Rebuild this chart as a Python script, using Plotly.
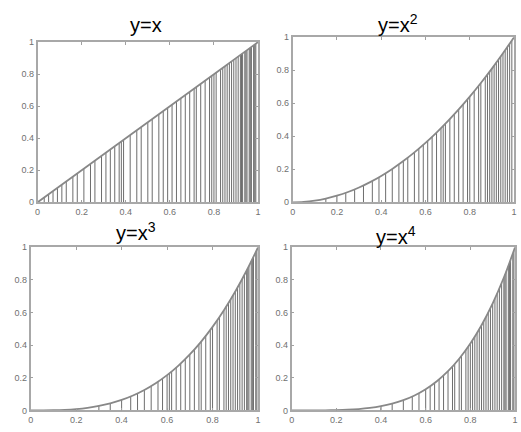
import plotly.graph_objects as go

# ---- data ----
titles = ["y=x", "y=x<sup>2</sup>", "y=x<sup>3</sup>", "y=x<sup>4</sup>"]
powers = [1, 2, 3, 4]
curve_x = [0, 0.05, 0.1, 0.15, 0.2, 0.25, 0.3, 0.35, 0.4, 0.45, 0.5, 0.55,
           0.6, 0.65, 0.7, 0.75, 0.8, 0.85, 0.9, 0.95, 1.0]
stems1 = [0.03, 0.05, 0.07, 0.09, 0.11, 0.13, 0.16, 0.18, 0.21, 0.24, 0.26, 0.29,
          0.31, 0.33, 0.35, 0.37, 0.38, 0.39, 0.42, 0.45, 0.47, 0.50, 0.52, 0.55, 0.57,
          0.59, 0.61, 0.63, 0.65, 0.67, 0.69, 0.71, 0.72, 0.74, 0.76, 0.78, 0.79,
          0.80, 0.81, 0.83, 0.84, 0.85, 0.86, 0.87, 0.88, 0.89, 0.90, 0.91, 0.92,
          0.925, 0.93, 0.94, 0.945, 0.95, 0.96, 0.965, 0.97, 0.98, 0.985, 0.99]
stems2 = [0.15, 0.20, 0.24, 0.28, 0.32, 0.36, 0.39, 0.42, 0.45, 0.48, 0.50, 0.52,
          0.55, 0.57, 0.59, 0.61, 0.63, 0.65, 0.67, 0.68, 0.69, 0.71, 0.73, 0.75, 0.77,
          0.79, 0.80, 0.82, 0.84, 0.85, 0.87, 0.88, 0.89, 0.90, 0.91, 0.92, 0.93,
          0.94, 0.95, 0.96, 0.97, 0.98, 0.99]
stems3 = [0.30, 0.35, 0.40, 0.44, 0.47, 0.50, 0.53, 0.56, 0.58, 0.60, 0.61, 0.62, 0.64,
          0.66, 0.68, 0.70, 0.72, 0.74, 0.75, 0.77, 0.79, 0.80, 0.82, 0.83, 0.85,
          0.86, 0.87, 0.88, 0.89, 0.90, 0.91, 0.92, 0.93, 0.94, 0.95, 0.955, 0.96,
          0.97, 0.975, 0.98, 0.99, 0.995]
stems4 = [0.40, 0.45, 0.50, 0.54, 0.57, 0.60, 0.62, 0.64, 0.66, 0.68, 0.70, 0.72,
          0.73, 0.75, 0.76, 0.78, 0.79, 0.80, 0.81, 0.82, 0.83, 0.84, 0.85, 0.86, 0.87,
          0.88, 0.89, 0.90, 0.91, 0.92, 0.93, 0.94, 0.95, 0.955, 0.96, 0.97, 0.975,
          0.98, 0.99, 0.995]
stems = [stems1, stems2, stems3, stems4]
tick_vals = [0, 0.2, 0.4, 0.6, 0.8, 1]
tick_text = ["0", "0.2", "0.4", "0.6", "0.8", "1"]

W, H = 521, 432
# plot areas in pixels: left, right, top, bottom
boxes = [(35, 258, 38, 202), (293, 517, 33, 202), (28, 258, 248, 415), (292, 518, 248, 415)]
title_pos = [(145, 20), (400, 19), (135, 232), (398, 236)]

fig = go.Figure()
layout = dict(width=W, height=H, margin=dict(l=0, r=0, t=0, b=0),
              paper_bgcolor="white", plot_bgcolor="white", showlegend=False,
              annotations=[])
for i in range(4):
    n = powers[i]
    xa = "x" if i == 0 else f"x{i+1}"
    ya = "y" if i == 0 else f"y{i+1}"
    sx, sy = [], []
    for s in stems[i]:
        sx += [s, s, None]
        sy += [0, s ** n, None]
    fig.add_trace(go.Scatter(x=sx, y=sy, mode="lines", xaxis=xa, yaxis=ya,
                             line=dict(color="rgba(60,60,60,0.75)", width=1),
                             hoverinfo="skip"))
    fig.add_trace(go.Scatter(x=curve_x, y=[v ** n for v in curve_x], mode="lines",
                             xaxis=xa, yaxis=ya, line=dict(color="#888888", width=1.8),
                             line_shape="spline"))
    l, r, t, b = boxes[i]
    axcommon = dict(range=[0, 1], tickvals=tick_vals, ticktext=tick_text,
                    showgrid=False, zeroline=False, showline=True, mirror="ticks",
                    linecolor="#a8a8a8", linewidth=1.5, ticks="inside", ticklen=3,
                    tickcolor="#a0a0a0", tickfont=dict(family="Arial", size=9, color="#707070"))
    layout["xaxis" if i == 0 else f"xaxis{i+1}"] = dict(axcommon, domain=[l / W, r / W],
                                                         anchor=ya)
    layout["yaxis" if i == 0 else f"yaxis{i+1}"] = dict(axcommon, domain=[1 - b / H, 1 - t / H],
                                                         anchor=xa)
    tx, ty = title_pos[i]
    layout["annotations"].append(dict(text=titles[i], x=tx / W, y=1 - ty / H, xref="paper",
                                      yref="paper", showarrow=False,
                                      xanchor="center", yanchor="middle",
                                      font=dict(family="Arial", size=20, color="black")))
fig.update_layout(**layout)
fig.write_html("out.html", config={"displayModeBar": False},
               post_script="document.body.style.margin='0';document.body.style.overflow='hidden';")
